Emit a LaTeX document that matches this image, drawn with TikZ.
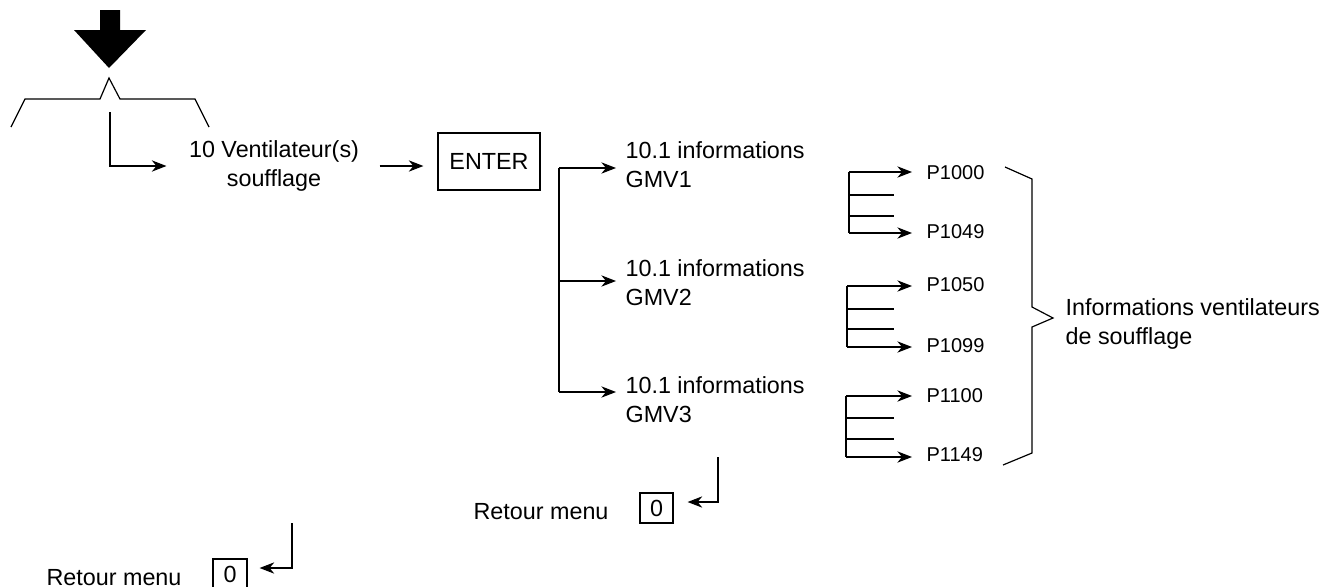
\documentclass[tikz,border=0pt]{standalone}
\usepackage{fontspec}
\setmainfont{Liberation Sans}
\usetikzlibrary{arrows.meta}
\begin{document}
\begin{tikzpicture}[x=0.75pt,y=-0.75pt,
  font=\fontsize{17.5}{21.75}\selectfont,
  line width=0.9pt,
  arr/.style={-{Stealth[length=11pt,width=8.5pt,inset=3.5pt]}},
  txt/.style={inner sep=0pt, align=left, anchor=west},
  ptxt/.style={inner sep=0pt, anchor=west, font=\fontsize{15}{18}\selectfont},
  keybox/.style={draw, inner sep=0pt}]
\useasboundingbox (0,0) rectangle (1328,586);

% big arrow and bracket
\fill (100,10) -- (120,10) -- (120,30) -- (146,30) -- (109,68) -- (74,30) -- (100,30) -- cycle;
\draw (11,127) -- (25,99) -- (100,99) -- (109,78) -- (120,99) -- (195,99) -- (209,127);

% nodes
\node[inner sep=0pt, align=center] (vent) at (274,166) {10 Ventilateur(s)\\soufflage};
\node[keybox, minimum width=76.5pt, minimum height=42.75pt] (enter) at (489,161.5) {ENTER};
\node[txt] (gmv1) at (625,164.5) {10.1 informations\\GMV1};
\node[txt] (gmv2) at (625,282.5) {10.1 informations\\GMV2};
\node[txt] (gmv3) at (625,400) {10.1 informations\\GMV3};

\node[ptxt] (p1000) at (926,173) {P1000};
\node[ptxt] (p1049) at (926,232) {P1049};
\node[ptxt] (p1050) at (926,285) {P1050};
\node[ptxt] (p1099) at (926,346) {P1099};
\node[ptxt] (p1100) at (926,396) {P1100};
\node[ptxt] (p1149) at (926,455) {P1149};

\node[txt] (info) at (1065,323.5) {Informations ventilateurs\\de soufflage};

\node[txt] (ret1) at (473,512) {Retour menu};
\node[keybox, minimum width=24.75pt, minimum height=22.5pt] (zero1) at (656.5,508) {0};
\node[txt] (ret2) at (46,578) {Retour menu};
\node[keybox, minimum width=25.5pt, minimum height=22.5pt] (zero2) at (230,574) {0};

% connectors
\coordinate (c0) at (110,112);
\draw[arr, shorten >=16.5pt] (c0) |- (vent.west);
\draw[arr, shorten <=15pt, shorten >=10.5pt] (vent.east) -- (vent.east -| enter.west);

\coordinate (bt) at (559,168);
\coordinate (bm) at (559,281);
\coordinate (bb) at (559,392);
\draw (bt) -- (bb);
\draw[arr, shorten >=6.75pt] (bt) -- (bt -| gmv1.west);
\draw[arr, shorten >=6.75pt] (bm) -- (bm -| gmv2.west);
\draw[arr, shorten >=6.75pt] (bb) -- (bb -| gmv3.west);

% P groups
\foreach \x/\t/\b/\ma/\mb/\pa/\pb in {849/172/233/195/216/p1000/p1049, 847/286/347/309/329/p1050/p1099, 846/396/457/418/439/p1100/p1149}{
  \coordinate (gt) at (\x,\t);
  \coordinate (gb) at (\x,\b);
  \draw (gt) -- (gb);
  \draw (\x,\ma) -- (894,\ma);
  \draw (\x,\mb) -- (894,\mb);
  \draw[arr, shorten >=10.5pt] (gt) -- (gt -| \pa.west);
  \draw[arr, shorten >=10.5pt] (gb) -- (gb -| \pb.west);
}

% brace
\draw (1005,167) -- (1032,179) -- (1032,307) -- (1053,318) -- (1032,327) -- (1032,453) -- (1003,465);

% return arrows
\coordinate (r1) at (718,457);
\coordinate (r1c) at (718,502);
\draw[arr, shorten >=10.5pt] (r1) -- (r1c) -- (r1c -| zero1.east);
\coordinate (r2) at (292,523);
\coordinate (r2c) at (292,568);
\draw[arr, shorten >=9pt] (r2) -- (r2c) -- (r2c -| zero2.east);
\end{tikzpicture}
\end{document}
